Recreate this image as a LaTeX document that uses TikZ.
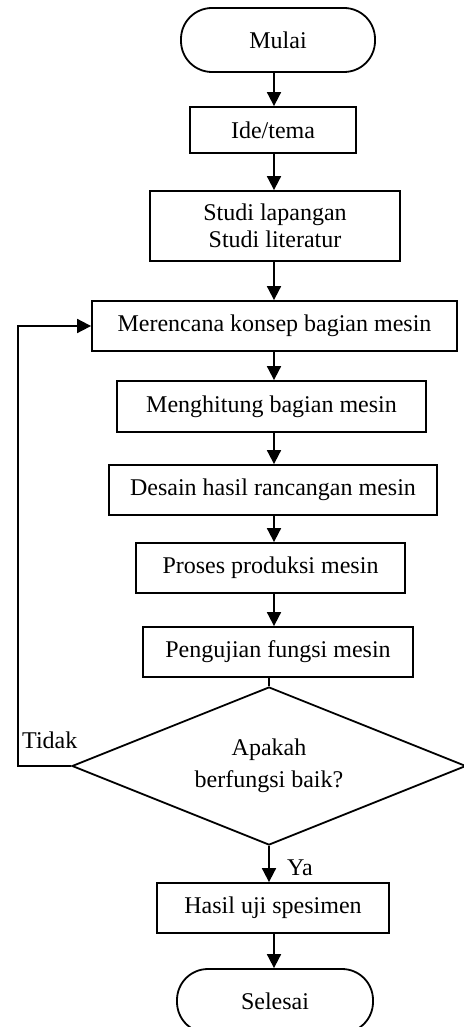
\documentclass[tikz,border=0pt]{standalone}
\usepackage{fontspec}
\setmainfont{Liberation Serif}
\usetikzlibrary{arrows.meta,shapes.geometric}
\begin{document}
\begin{tikzpicture}[x=1pt,y=-1pt,
  every node/.style={font=\fontsize{24}{27}\selectfont},
  proc/.style={draw, line width=1.8pt, rectangle, inner sep=0pt, align=center},
  term/.style={draw, line width=1.8pt, rectangle, rounded corners=31pt, inner sep=0pt},
  dec/.style={draw, line width=1.8pt, diamond, aspect=2.5, inner sep=0pt, align=center},
  arr/.style={line width=1.8pt, -{Triangle[length=14pt,width=14pt]}},
  conn/.style={line width=1.8pt},
  lbl/.style={inner sep=0pt, anchor=base west}]
\useasboundingbox (0,0) rectangle (463,1027);

\node[term, minimum width=194pt, minimum height=64pt] (mulai) at (278,40) {Mulai};
\node[proc, minimum width=166pt, minimum height=46pt] (ide) at (273,130) {Ide/tema};
\node[proc, minimum width=250pt, minimum height=70pt] (studi) at (275,226) {Studi lapangan\\Studi literatur};
\node[proc, minimum width=365pt, minimum height=50pt] (rencana) at (274.5,326) {Merencana konsep bagian mesin};
\node[proc, minimum width=309pt, minimum height=51pt] (hitung) at (271.5,406.5) {Menghitung bagian mesin};
\node[proc, minimum width=328pt, minimum height=50pt] (desain) at (273,490) {Desain hasil rancangan mesin};
\node[proc, minimum width=269pt, minimum height=50pt] (proses) at (270.5,568) {Proses produksi mesin};
\node[proc, minimum width=270pt, minimum height=50pt] (uji) at (278,652) {Pengujian fungsi mesin};
\node[dec, minimum width=394pt, minimum height=158pt, font=\fontsize{24}{32}\selectfont] (dec) at (269,766) {Apakah\\berfungsi baik?};
\node[proc, minimum width=232pt, minimum height=50pt] (hasil) at (273,908) {Hasil uji spesimen};
\node[term, minimum width=196pt, minimum height=64pt] (selesai) at (275,1001) {Selesai};

\coordinate (col) at (274,0);
\coordinate (lt) at (18,326);

\draw[arr] (mulai.south -| col) -- (ide.north -| col);
\draw[arr] (ide.south -| col) -- (studi.north -| col);
\draw[arr] (studi.south -| col) -- (rencana.north -| col);
\draw[arr] (rencana.south -| col) -- (hitung.north -| col);
\draw[arr] (hitung.south -| col) -- (desain.north -| col);
\draw[arr] (desain.south -| col) -- (proses.north -| col);
\draw[arr] (proses.south -| col) -- (uji.north -| col);
\draw[conn] (uji.south -| dec.north) -- (dec.north);
\draw[arr] (dec.south) -- (dec.south |- hasil.north);
\draw[arr] (hasil.south -| col) -- (selesai.north -| col);
\draw[arr] (dec.west) -- (dec.west -| lt) -- (lt) -- (rencana.west);

\node[lbl] (tidak) at (22,748) {Tidak};
\node[lbl] (ya) at (287,875) {Ya};
\end{tikzpicture}
\end{document}
